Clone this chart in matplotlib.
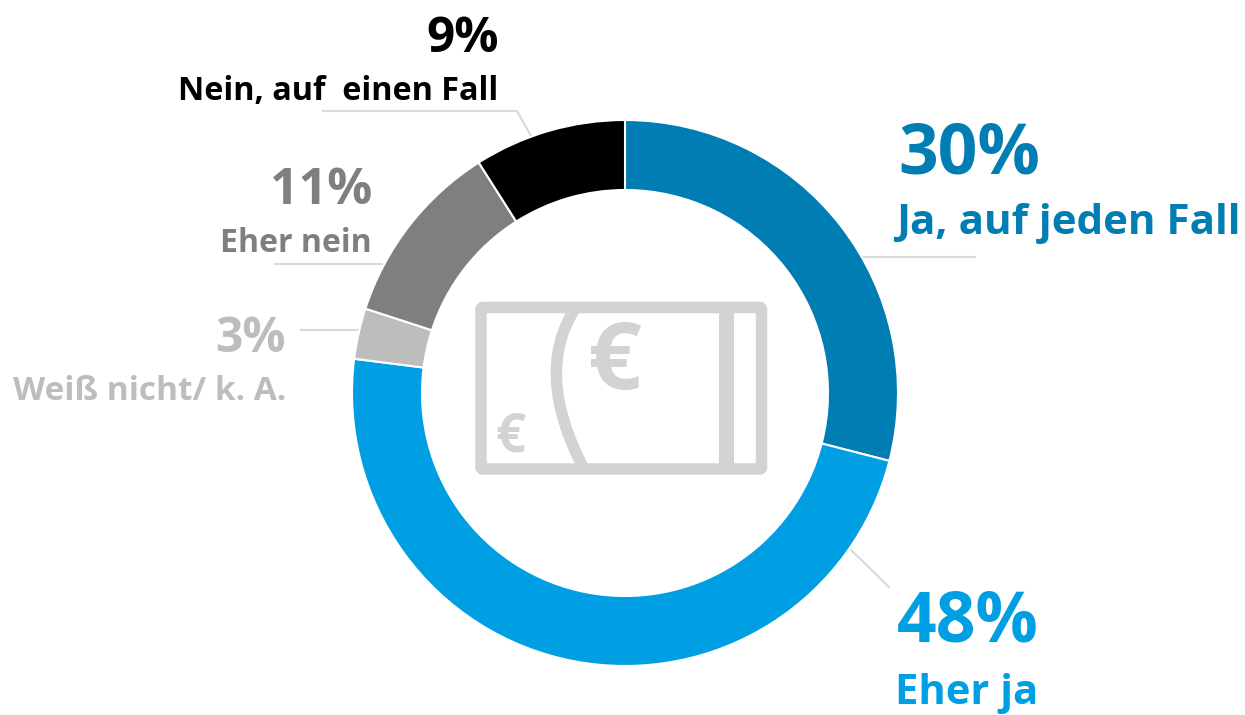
import matplotlib
matplotlib.use("Agg")
import matplotlib.pyplot as plt
from matplotlib.patches import FancyBboxPatch, Rectangle, PathPatch
from matplotlib.path import Path

categories = ["Ja, auf jeden Fall", "Eher ja", "Weiß nicht/ k. A.", "Eher nein", "Nein, auf  einen Fall"]
values = [29, 48, 3, 11, 9]
labels = ["30%", "48%", "3%", "11%", "9%"]
colors = ["#007DB3", "#009EE3", "#BDBDBD", "#7F7F7F", "#000000"]

W, H = 1245, 715
fig = plt.figure(figsize=(W/100, H/100), dpi=100)
bg = fig.add_axes([0, 0, 1, 1])
bg.set_xlim(0, W); bg.set_ylim(H, 0); bg.axis("off")

plt.rcParams['font.family'] = ['Open Sans', 'DejaVu Sans']
cx, cy, R = 625, 393, 273
ax = fig.add_axes([(cx-R)/W, 1-(cy+R)/H, 2*R/W, 2*R/H])
ax.pie(values, colors=colors, startangle=90, counterclock=False, radius=1,
       wedgeprops=dict(width=70/273, edgecolor="white", linewidth=1.5))
ax.set_xlim(-1, 1); ax.set_ylim(-1, 1); ax.set_aspect("equal")
ax.patch.set_visible(False)

lc = "#D9D9D9"
for xs, ys in [([863, 975], [257, 257]), ([850, 889], [549, 587]), ([301, 358], [330, 330]),
               ([275, 382], [264, 264]), ([323, 517, 531], [111, 111, 136])]:
    bg.plot(xs, ys, color=lc, lw=1.5)

ic = "#D3D3D3"
bg.add_patch(FancyBboxPatch((481, 307.5), 280.5, 161.5, boxstyle="round,pad=0,rounding_size=2",
                            fc="none", ec=ic, lw=8.3))
bg.add_patch(Rectangle((719, 307), 15, 162, fc=ic, ec="none"))
bg.add_patch(PathPatch(Path([(576, 307), (533, 372), (584, 469)], [Path.MOVETO, Path.CURVE3, Path.CURVE3]),
                       fc="none", ec=ic, lw=8.3, capstyle="butt"))
bg.text(615, 364, "€", fontsize=68, color=ic, ha="center", va="center", fontweight="bold")
bg.text(510, 437, "€", fontsize=38, color=ic, ha="center", va="center", fontweight="bold")

def t(x, y, s, size, c):
    bg.text(x, y, s, fontsize=size, color=c, ha="right", va="center", fontweight="bold")

t(1040, 156, labels[0], 50, colors[0]); t(1241, 224, categories[0], 30.3, colors[0])
t(1039, 623, labels[1], 50, colors[1]); t(1038, 694, categories[1], 30, colors[1])
t(286, 340, labels[2], 34.5, colors[2]); t(286, 391, categories[2], 24, colors[2])
t(372, 191, labels[3], 36, colors[3]); t(372, 244, categories[3], 23.1, colors[3])
t(499, 40, labels[4], 35.5, colors[4]); t(498, 91, categories[4], 23.3, colors[4])

fig.savefig("out.png", dpi=100)
